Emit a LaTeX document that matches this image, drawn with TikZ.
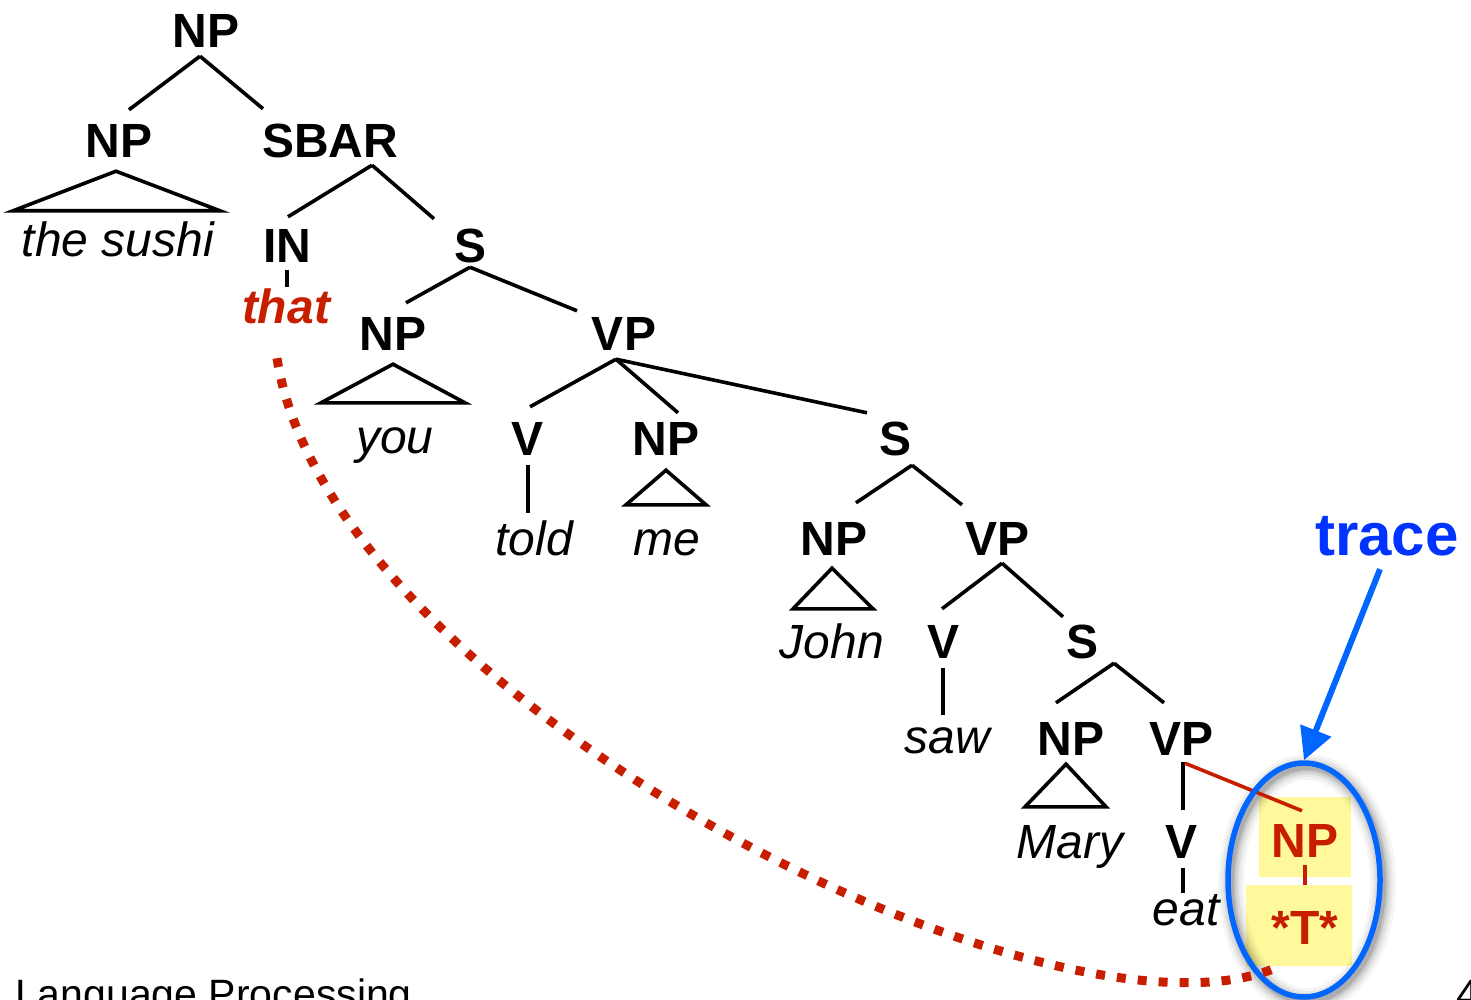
\documentclass[tikz,border=0pt]{standalone}
\usepackage{fontspec}
\setmainfont{Liberation Sans}
\usetikzlibrary{arrows.meta,shapes.geometric,backgrounds}
\definecolor{trred}{RGB}{200,30,0}
\definecolor{trblue}{RGB}{0,51,255}
\definecolor{elblue}{RGB}{0,102,255}
\definecolor{hlyellow}{RGB}{255,249,155}
\begin{document}
\begin{tikzpicture}[x=1pt,y=-1pt,
  lab/.style={anchor=base, inner sep=0pt, text height=34pt, text depth=0pt, font=\fontsize{48}{48}\selectfont\bfseries},
  redlab/.style={lab, text=trred},
  wrd/.style={anchor=base, inner sep=0pt, text height=34pt, text depth=0pt, font=\fontsize{48}{48}\selectfont\itshape},
  tree/.style={line width=3.6pt, black},
  redtree/.style={line width=3.6pt, trred},
  foot/.style={anchor=base west, inner sep=0pt, font=\fontsize{41}{41}\selectfont}]
\path[use as bounding box, clip] (0,0) rectangle (1471,1000);

% labels
\node[lab] (np0) at (206,48) {NP};
\node[lab] (np1) at (119,158) {NP};
\node[lab] (sbar) at (330,158) {SBAR};
\node[lab] (in) at (287,262) {IN};
\node[lab] (s1) at (471,262) {S};
\node[lab] (np2) at (393,350) {NP};
\node[lab] (vp1) at (624,350) {VP};
\node[lab] (v1) at (527,455) {V};
\node[lab] (np3) at (666,455) {NP};
\node[lab] (s2) at (895,455) {S};
\node[lab] (np4) at (834,555) {NP};
\node[lab] (vp2) at (997,555) {VP};
\node[lab] (v2) at (943,658) {V};
\node[lab] (s3) at (1082,658) {S};
\node[lab] (np5) at (1071,755) {NP};
\node[lab] (vp3) at (1181,755) {VP};
\node[lab] (v3) at (1181,858) {V};
\node[redlab] (np6) at (1305,857) {NP};
\node[redlab] (tstar) at (1305,944) {*T*};

% words
\node[wrd] (w1) at (118,257) {the sushi};
\node[wrd, font=\fontsize{48}{48}\selectfont\bfseries\itshape, text=trred] (that) at (286,323) {that};
\node[wrd] (you) at (395,453) {you};
\node[wrd] (told) at (534,555) {told};
\node[wrd] (me) at (667,555) {me};
\node[wrd] (john) at (832,658) {John};
\node[wrd] (saw) at (947,753) {saw};
\node[wrd] (mary) at (1070,858) {Mary};
\node[wrd] (eat) at (1186,925) {eat};

\node[anchor=base, inner sep=0pt, text depth=0pt, font=\fontsize{60}{60}\selectfont\bfseries, text=trblue] (trace) at (1387,555) {trace};

\node[foot] (footl) at (15,1008) {Language Processing};
\node[foot] (pnum) at (1456,1008) {4};

% highlight boxes and shadow
\begin{scope}[on background layer]
  \fill[hlyellow] ([shift={(-46,-26)}]np6.north) rectangle ([shift={(46,20)}]np6.south);
  \fill[hlyellow] ([shift={(-59,-25)}]tstar.north) rectangle ([shift={(47,22)}]tstar.south);
  \foreach \w/\o in {26/0.04,20/0.05,15/0.07,10/0.09,6/0.12}
    \draw[line width=\w pt, black, opacity=\o] (1307,884) ellipse [x radius=76, y radius=117];
\end{scope}

% tree edges
\draw[tree] ([shift={(-6,8)}]np0.south) -- ([shift={(10,-14)}]np1.north);
\draw[tree] ([shift={(-6,8)}]np0.south) -- ([shift={(-67,-15)}]sbar.north);
\draw[tree] ([shift={(-3,13)}]np1.south) -- ([shift={(-105,-12)}]w1.north) -- ([shift={(102,-12)}]w1.north) -- cycle;
\draw[tree] ([shift={(42,7)}]sbar.south) -- ([shift={(1,-11)}]in.north);
\draw[tree] ([shift={(42,7)}]sbar.south) -- ([shift={(-37,-9)}]s1.north);
\draw[tree] ([shift={(0,8)}]in.south) -- ([shift={(1,-2)}]that.north);
\draw[tree] ([shift={(-1,5)}]s1.south) -- ([shift={(13,-13)}]np2.north);
\draw[tree] ([shift={(-1,5)}]s1.south) -- ([shift={(-47,-5)}]vp1.north);
\draw[tree] ([shift={(0,14)}]np2.south) -- ([shift={(-74,-16)}]you.north) -- ([shift={(70,-16)}]you.north) -- cycle;
\draw[tree] ([shift={(-8,9)}]vp1.south) -- ([shift={(3,-14)}]v1.north);
\draw[tree] ([shift={(-8,9)}]vp1.south) -- ([shift={(12,-8)}]np3.north);
\draw[tree] ([shift={(-8,9)}]vp1.south) -- ([shift={(-28,-8)}]s2.north);
\draw[tree] ([shift={(1,10)}]v1.south) -- ([shift={(-6,-8)}]told.north);
\draw[tree] ([shift={(0,15)}]np3.south) -- ([shift={(-41,-16)}]me.north) -- ([shift={(39,-16)}]me.north) -- cycle;
\draw[tree] ([shift={(17,10)}]s2.south) -- ([shift={(22,-18)}]np4.north);
\draw[tree] ([shift={(17,10)}]s2.south) -- ([shift={(-35,-16)}]vp2.north);
\draw[tree] ([shift={(-2,13)}]np4.south) -- ([shift={(-39,-15)}]john.north) -- ([shift={(41,-15)}]john.north) -- cycle;
\draw[tree] ([shift={(5,8)}]vp2.south) -- ([shift={(-1,-15)}]v2.north);
\draw[tree] ([shift={(5,8)}]vp2.south) -- ([shift={(-19,-7)}]s3.north);
\draw[tree] ([shift={(0,10)}]v2.south) -- ([shift={(-4,-4)}]saw.north);
\draw[tree] ([shift={(32,5)}]s3.south) -- ([shift={(-15,-18)}]np5.north);
\draw[tree] ([shift={(32,5)}]s3.south) -- ([shift={(-17,-18)}]vp3.north);
\draw[tree] ([shift={(-5,9)}]np5.south) -- ([shift={(-45,-17)}]mary.north) -- ([shift={(36,-17)}]mary.north) -- cycle;
\draw[tree] ([shift={(2,7)}]vp3.south) -- ([shift={(2,-14)}]v3.north);
\draw[tree] ([shift={(2,10)}]v3.south) -- ([shift={(-3,2)}]eat.north);
\draw[redtree] ([shift={(4,8)}]vp3.south) -- ([shift={(-3,-12)}]np6.north);
\draw[redtree] ([shift={(0,8)}]np6.south) -- ([shift={(0,-25)}]tstar.north);

% trace ellipse and arrow
\node[draw=elblue, line width=5.5pt, ellipse, minimum width=152pt, minimum height=234pt, inner sep=0pt] (circ) at (1304,880) {};
\draw[elblue, line width=6pt, -{Triangle[length=32pt,width=32pt]}] ([shift={(-7,14)}]trace.south) -- (circ.north);

% movement dotted curve
\draw[trred, line width=9pt, dash pattern=on 9pt off 12pt] ([shift={(-9,35)}]that.south) .. controls (330,700) and (1050,1060) .. ([shift={(-30,24)}]tstar.south);
\end{tikzpicture}
\end{document}
